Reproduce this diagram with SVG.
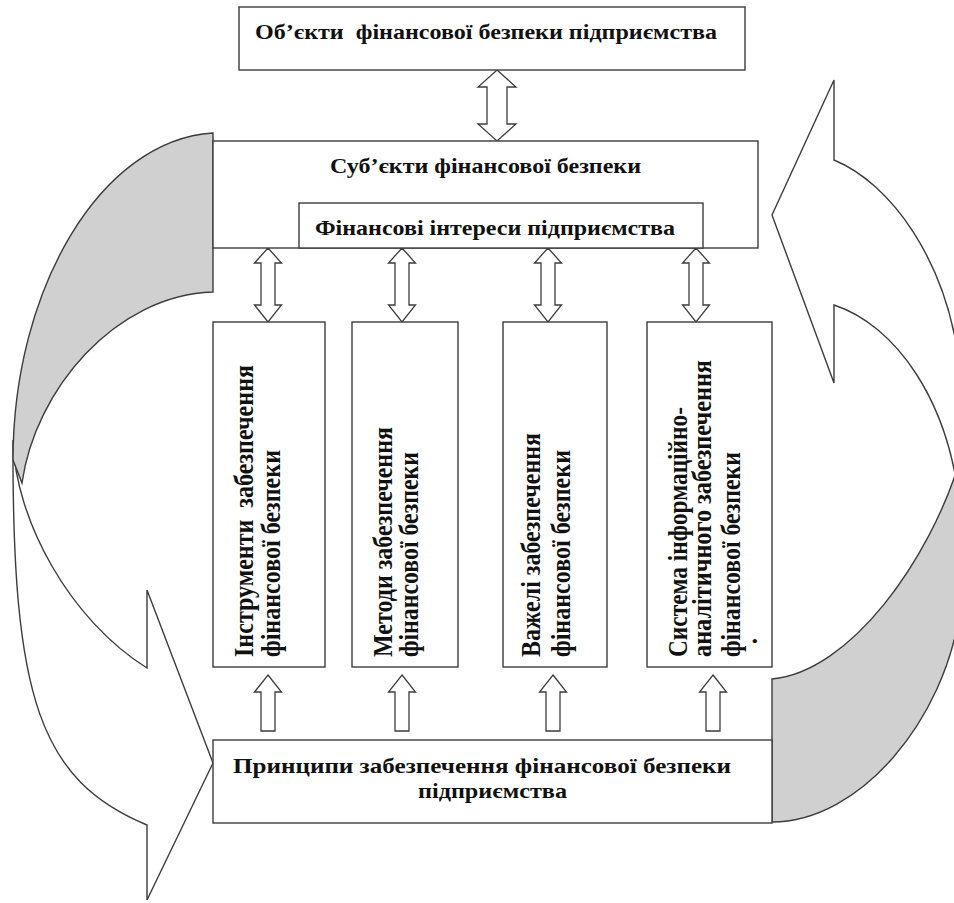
<svg xmlns="http://www.w3.org/2000/svg" width="954" height="903" viewBox="0 0 954 903">
<style>
.box{fill:#fff;stroke:#3c3c3c;stroke-width:1.4}
.shape{fill:#fff;stroke:#3c3c3c;stroke-width:1.4;stroke-linejoin:miter}
.gray{fill:#d0d0d0;stroke:#3c3c3c;stroke-width:1.4}
.arr{fill:#fff;stroke:#3c3c3c;stroke-width:1.3;stroke-linejoin:miter}
.t{font-family:"Liberation Serif","Times New Roman",serif;font-weight:bold;font-size:21px;fill:#111}
.v{font-family:"Liberation Serif","Times New Roman",serif;font-weight:bold;font-size:24px;fill:#111}
</style>
<rect width="954" height="903" fill="#fff"/>
<g id="cycle-left">
<path class="shape" d="M13,440 C12,700 40,780 147,825 L147,900 L213,763 L147,590 L147,668 C70,620 15,520 13,440 Z"/>
<path class="gray" d="M213,133 C100,140 13,290 13,460 L22,483 C35,390 115,295 213,292 Z"/>
</g>
<g id="cycle-right">
<path class="gray" d="M772,679 C850,672 930,560 960,460 L960,610 C945,720 860,822 772,822 Z"/>
<path class="shape" d="M834,160 C890,183 948,260 960,370 L960,510 C950,400 895,325 834,305 L834,383 L772,215 L834,80 Z"/>
</g>
<g id="connectors">
<polygon class="arr" points="497,70 516,87 507,87 507,124 516,124 497,141 478,124 487,124 487,87 478,87"/>
<polygon class="arr" points="268,248 281.5,263 275,263 275,305 281.5,305 268,322 254.5,305 261,305 261,263 254.5,263"/>
<polygon class="arr" points="402,248 415.5,263 409,263 409,305 415.5,305 402,322 388.5,305 395,305 395,263 388.5,263"/>
<polygon class="arr" points="548,248 561.5,263 555,263 555,305 561.5,305 548,322 534.5,305 541,305 541,263 534.5,263"/>
<polygon class="arr" points="696,248 709.5,263 703,263 703,305 709.5,305 696,322 682.5,305 689,305 689,263 682.5,263"/>
<polygon class="arr" points="268,675 281.5,692 275,692 275,731 261,731 261,692 254.5,692"/>
<polygon class="arr" points="402,675 415.5,692 409,692 409,731 395,731 395,692 388.5,692"/>
<polygon class="arr" points="553,675 566.5,692 560,692 560,731 546,731 546,692 539.5,692"/>
<polygon class="arr" points="713,675 726.5,692 720,692 720,731 706,731 706,692 699.5,692"/>
</g>
<g id="objects">
<rect class="box" x="239" y="7" width="506" height="63"/>
<text class="t" x="255" y="39" textLength="462" lengthAdjust="spacingAndGlyphs" xml:space="preserve" style="white-space:pre">Об’єкти  фінансової безпеки підприємства</text>
</g>
<g id="subjects">
<rect class="box" x="213" y="141" width="545" height="107"/>
<text class="t" x="330" y="173" textLength="311" lengthAdjust="spacingAndGlyphs">Суб’єкти фінансової безпеки</text>
</g>
<g id="interests">
<rect class="box" x="299" y="203" width="404" height="45"/>
<text class="t" x="315" y="235" textLength="360" lengthAdjust="spacingAndGlyphs">Фінансові інтереси підприємства</text>
</g>
<g id="instruments">
<rect class="box" x="213" y="322" width="112" height="345"/>
<text class="v" transform="translate(253,657) scale(1.1,1) rotate(-90)" textLength="292" lengthAdjust="spacingAndGlyphs" xml:space="preserve" style="white-space:pre">Інструменти  забезпечення</text>
<text class="v" transform="translate(280,657) scale(1.1,1) rotate(-90)" textLength="207" lengthAdjust="spacingAndGlyphs">фінансової безпеки</text>
</g>
<g id="methods">
<rect class="box" x="352" y="322" width="106" height="345"/>
<text class="v" transform="translate(392,657) scale(1.1,1) rotate(-90)" textLength="230" lengthAdjust="spacingAndGlyphs">Методи забезпечення</text>
<text class="v" transform="translate(418,657) scale(1.1,1) rotate(-90)" textLength="205" lengthAdjust="spacingAndGlyphs">фінансової безпеки</text>
</g>
<g id="levers">
<rect class="box" x="503" y="322" width="104" height="345"/>
<text class="v" transform="translate(540,657) scale(1.1,1) rotate(-90)" textLength="224" lengthAdjust="spacingAndGlyphs">Важелі забезпечення</text>
<text class="v" transform="translate(570,657) scale(1.1,1) rotate(-90)" textLength="207" lengthAdjust="spacingAndGlyphs">фінансової безпеки</text>
</g>
<g id="info-system">
<rect class="box" x="647" y="322" width="125" height="345"/>
<text class="v" transform="translate(687,657) scale(1.1,1) rotate(-90)" textLength="250" lengthAdjust="spacingAndGlyphs">Система інформаційно-</text>
<text class="v" transform="translate(711,657) scale(1.1,1) rotate(-90)" textLength="297" lengthAdjust="spacingAndGlyphs">аналітичного забезпечення</text>
<text class="v" transform="translate(740,657) scale(1.1,1) rotate(-90)" textLength="205" lengthAdjust="spacingAndGlyphs">фінансової безпеки</text>
<text class="v" transform="translate(757,644) scale(1.1,1) rotate(-90)">.</text>
</g>
<g id="principles">
<rect class="box" x="213" y="740" width="559" height="83"/>
<text class="t" x="233" y="773" textLength="498" lengthAdjust="spacingAndGlyphs">Принципи забезпечення фінансової безпеки</text>
<text class="t" x="418" y="798" textLength="149" lengthAdjust="spacingAndGlyphs">підприємства</text>
</g>
</svg>
